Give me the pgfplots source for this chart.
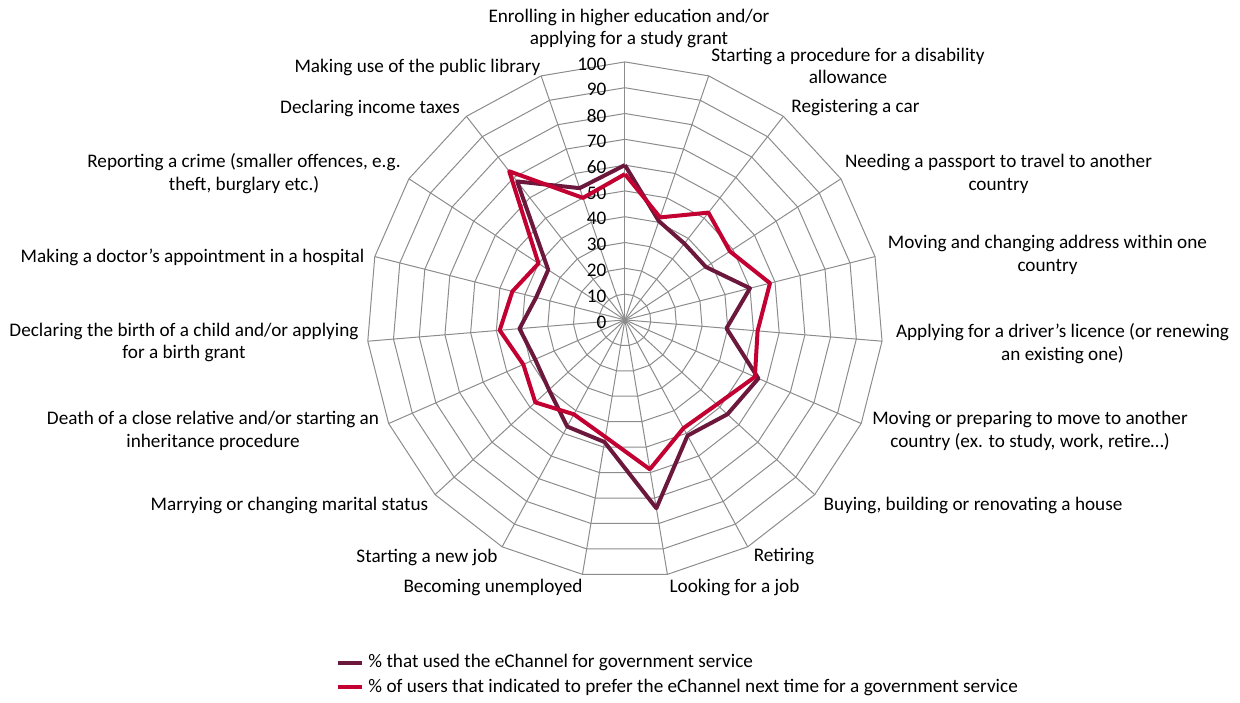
\documentclass[border=0pt]{standalone}
\usepackage{pgfplots}
\pgfplotsset{compat=1.18}
\usepackage{fontspec}
\setmainfont{Carlito}
\definecolor{usedc}{RGB}{108,24,60}
\definecolor{prefc}{RGB}{194,0,50}
\definecolor{gridc}{RGB}{140,140,140}
\newcommand{\lbl}{\fontsize{9.6}{11.4}\selectfont}
\begin{document}
\begin{tikzpicture}
\begin{axis}[
    at={(0,0)}, anchor=south west,
    scale only axis, width=620pt, height=351pt,
    xmin=-242.2, xmax=238.4, ymin=-148.1, ymax=124.0,
    hide axis, clip=false,
    legend style={at={(axis description cs:0.271,0.074)}, anchor=north west,
        draw=none, fill=none, font=\lbl, inner sep=0pt, row sep=0pt,
        cells={anchor=west}},
    legend image code/.code={\draw[#1] (0pt,0pt) -- (12pt,0pt);},
]
% polygon web
\pgfplotsinvokeforeach{10,20,...,100}{
  \draw[gridc, line width=0.5pt] (axis cs:0,#1)
    \foreach \k in {1,...,18}{ -- (axis cs:{#1*cos(90-\k*360/19)},{#1*sin(90-\k*360/19)}) } -- cycle;
}
\pgfplotsinvokeforeach{0,...,18}{
  \draw[gridc, line width=0.5pt] (axis cs:0,0) -- (axis cs:{100*cos(90-#1*360/19)},{100*sin(90-#1*360/19)});
}
\pgfplotsinvokeforeach{0,10,...,100}{
  \node[anchor=east, font=\lbl, inner sep=0pt] at (axis cs:-7,{#1-0.8}) {#1};
}

% % that used the eChannel
\addplot[usedc, line width=2pt, line join=round, data cs=polar] coordinates {
  (90,60) (71.053,40.5) (52.105,37.5) (33.158,37.5) (14.211,50)
  (-4.737,39.5) (-23.684,56.5) (-42.632,54) (-61.579,51) (-80.526,74)
  (-99.474,48) (-118.421,47) (-137.368,40) (-156.316,38) (-175.263,41)
  (-194.211,35.5) (-213.158,35.5) (-232.105,68) (-251.053,54) (-270,60)
};
% % preferring the eChannel next time
\addplot[prefc, line width=2pt, line join=round, data cs=polar] coordinates {
  (90,56.5) (71.053,42) (52.105,52.7) (33.158,48.6) (14.211,58)
  (-4.737,51.6) (-23.684,55) (-42.632,48.4) (-61.579,47.7) (-80.526,58.7)
  (-99.474,46) (-118.421,41.6) (-137.368,47.2) (-156.316,43) (-175.263,48.7)
  (-194.211,45) (-213.158,40) (-232.105,73) (-251.053,50) (-270,56.5)
};
\legend{\% that used the eChannel for government service,
        \% of users that indicated to prefer the eChannel next time for a government service}
\end{axis}

\begin{scope}[x=0.5pt, y=-0.5pt, yshift=351pt,
    every node/.style={font=\lbl, inner sep=0pt, align=center}]
\node at (629,28.5) {Enrolling in higher education and/or\\applying for a study grant};
\node at (848,66) {Starting a procedure for a disability\\allowance};
\node at (855.5,108) {Registering a car};
\node at (998.5,173.5) {Needing a passport to travel to another\\country};
\node at (1047.5,254.5) {Moving and changing address within one\\country};
\node at (1062.5,343.5) {Applying for a driver’s licence (or renewing\\an existing one)};
\node at (1030,431) {Moving or preparing to move to another\\country (ex. to study, work, retire…)};
\node at (973,505) {Buying, building or renovating a house};
\node at (784,557) {Retiring};
\node at (734.5,587) {Looking for a job};
\node at (493,587) {Becoming unemployed};
\node at (427,557) {Starting a new job};
\node at (289.5,505) {Marrying or changing marital status};
\node at (213,430.5) {Death of a close relative and/or starting an\\inheritance procedure};
\node at (184,342.5) {Declaring the birth of a child and/or applying\\for a birth grant};
\node at (192.5,257) {Making a doctor’s appointment in a hospital};
\node at (244,173.5) {Reporting a crime (smaller offences, e.g.\\theft, burglary etc.)};
\node at (370,108) {Declaring income taxes};
\node at (417.5,67) {Making use of the public library};
\end{scope}
\pgfresetboundingbox
\path (0,0) rectangle (620pt,351pt);
\end{tikzpicture}
\end{document}
